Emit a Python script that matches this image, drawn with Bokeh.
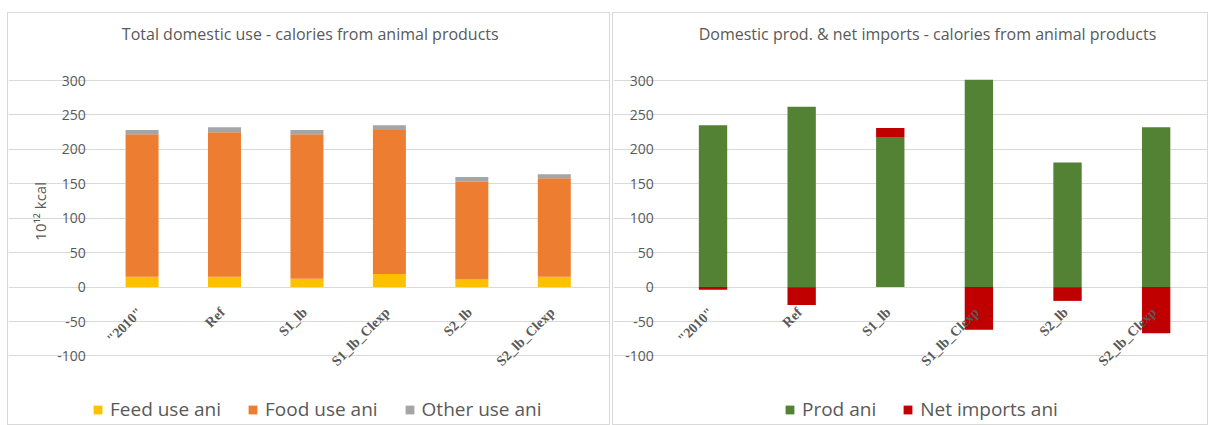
import math
from bokeh.plotting import figure
from bokeh.models import ColumnDataSource, Range1d, FixedTicker, Legend, LegendItem, Label, LabelSet
from bokeh.layouts import row
from bokeh.embed import file_html
from bokeh.resources import INLINE

categories = ['"2010"', "Ref", "S1_lb", "S1_lb_Clexp", "S2_lb", "S2_lb_Clexp"]
feed_use = [15, 15, 12, 19, 11, 15]
food_use = [207, 210, 210, 209, 142, 143]
other_use = [6, 7, 6, 7, 7, 6]
prod_ani = [235, 262, 218, 301, 181, 232]
net_imports = [-4, -26, 13, -62, -20, -67]
y_ticks = [-100, -50, 0, 50, 100, 150, 200, 250, 300]

FONT = "Open Sans"
GRAY = "#595959"
xpos = list(range(len(categories)))
n = len(categories)


def make_fig(width, margin_left, x_range):
    p = figure(x_range=x_range, y_range=Range1d(-202.4, 397.3), width=width, height=413,
               output_backend="svg", toolbar_location=None,
               min_border=0, min_border_left=0, min_border_right=0,
               min_border_top=0, min_border_bottom=0, margin=(12, 0, 0, margin_left))
    p.xaxis.visible = False
    p.xgrid.visible = False
    p.ygrid.grid_line_color = "#d9d9d9"
    p.ygrid.grid_line_width = 1
    p.ygrid.bounds = (-0.5, n - 0.5)
    p.outline_line_color = None
    ya = p.yaxis[0]
    ya.fixed_location = -0.5
    ya.ticker = FixedTicker(ticks=y_ticks)
    ya.major_label_overrides = {t: str(t) for t in y_ticks}
    ya.axis_line_color = None
    ya.major_tick_line_color = None
    ya.minor_tick_line_color = None
    ya.major_tick_in = 0
    ya.major_tick_out = 0
    ya.major_label_text_font = FONT
    ya.major_label_text_font_size = "14px"
    ya.major_label_text_color = GRAY
    ya.major_label_standoff = 15
    p.styles = {"border": "1px solid #d9d9d9", "box-sizing": "border-box"}
    return p


def cat_labels(p):
    src = ColumnDataSource(dict(x=xpos, y=[0] * n, t=categories))
    p.add_layout(LabelSet(x="x", y="y", text="t", source=src, angle=math.pi / 4,
                          text_align="right", text_baseline="middle", x_offset=-2, y_offset=-23,
                          text_font=FONT, text_font_style="bold", text_font_size="14px",
                          text_color=GRAY))


def make_legend(items, loc):
    return Legend(items=items, location=loc, orientation="horizontal", padding=0, margin=0,
                  spacing=26, glyph_width=11, glyph_height=11, label_standoff=7,
                  label_text_font=FONT, label_text_font_size="19px", label_text_color=GRAY,
                  background_fill_alpha=0, border_line_color=None)


def add_title(p, text, xc):
    p.add_layout(Label(x=xc, y=368, text=text, text_align="center", text_baseline="middle",
                       text_font=FONT, text_font_size="16px", text_color=GRAY))


# ---------- left chart ----------
src1 = ColumnDataSource(dict(x=xpos, feed=feed_use, food=food_use, other=other_use))
p1 = make_fig(603, 7, Range1d(-1.62, 5.694))
rs = p1.vbar_stack(["feed", "food", "other"], x="x", width=0.4, source=src1,
                   color=["#FFC000", "#ED7D31", "#A5A5A5"], line_color=None)
cat_labels(p1)
p1.add_layout(make_legend([LegendItem(label="Feed use ani", renderers=[rs[0]]),
                           LegendItem(label="Food use ani", renderers=[rs[1]]),
                           LegendItem(label="Other use ani", renderers=[rs[2]])], (84, 4)),
              "center")
add_title(p1, "Total domestic use - calories from animal products", 2.04)
p1.add_layout(Label(x=-1.243, y=110, text="10\u00b9\u00b2 kcal", angle=math.pi / 2,
                    text_align="center", text_baseline="middle", text_font=FONT,
                    text_font_size="15px", text_color=GRAY))

# ---------- right chart ----------
ni_bottom = [pv if nv > 0 else 0 for pv, nv in zip(prod_ani, net_imports)]
ni_top = [pv + nv if nv > 0 else nv for pv, nv in zip(prod_ani, net_imports)]
src2 = ColumnDataSource(dict(x=xpos, prod=prod_ani, ni_b=ni_bottom, ni_t=ni_top))
p2 = make_fig(596, 2, Range1d(-1.123, 5.602))
r_prod = p2.vbar(x="x", top="prod", bottom=0, width=0.32, source=src2,
                 color="#548235", line_color=None)
r_ni = p2.vbar(x="x", top="ni_t", bottom="ni_b", width=0.32, source=src2,
               color="#C00000", line_color=None)
cat_labels(p2)
p2.add_layout(make_legend([LegendItem(label="Prod ani", renderers=[r_prod]),
                           LegendItem(label="Net imports ani", renderers=[r_ni])], (171, 4)),
              "center")
add_title(p2, "Domestic prod. & net imports - calories from animal products", 2.42)

layout = row(p1, p2)
open("out.html", "w").write(file_html(layout, INLINE))
